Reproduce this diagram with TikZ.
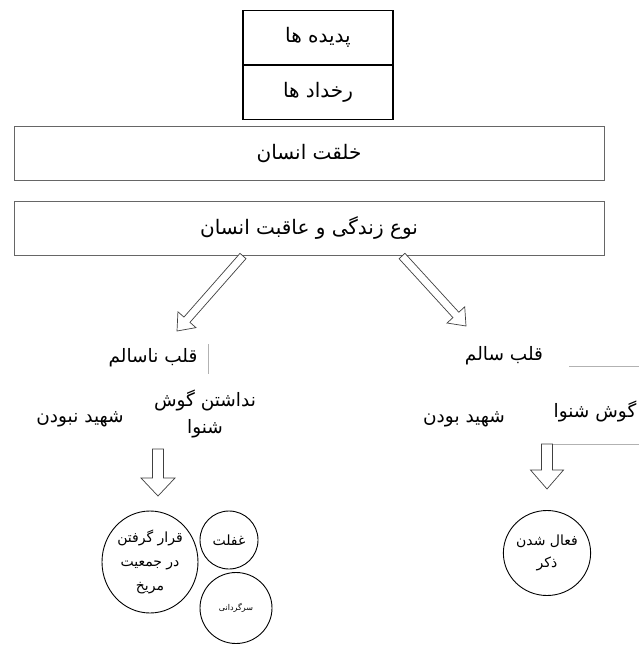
\documentclass[tikz,border=0pt]{standalone}
\usepackage{fontspec}
\newfontfamily\farsi[Script=Arabic]{DejaVu Sans}
\TeXXeTstate=1
\usetikzlibrary{calc,shapes.geometric}
\newcommand{\fa}[1]{\beginR#1\endR}

\tikzset{
  topbox/.style={draw, line width=1.2pt, minimum width=150pt, minimum height=54pt,
    font=\farsi\fontsize{20}{24}\selectfont},
  widebox/.style={draw=black!60, line width=.8pt, minimum width=590pt, minimum height=54pt,
    font=\farsi\fontsize{20}{24}\selectfont},
  txt/.style={font=\farsi\fontsize{18.5}{27}\selectfont, align=center},
  bubble/.style={draw, ellipse, line width=.9pt, inner sep=0pt, align=center,
    font=\farsi\fontsize{14}{24}\selectfont},
  faint/.style={draw=black!30, line width=.8pt},
  blockarrow/.style n args={3}{draw=black!75, fill=white, line width=.7pt,
    to path={let \p1=($(\tikztotarget)-(\tikztostart)$),
      \n1={atan2(\y1,\x1)}, \n2={veclen(\x1,\y1)-#3} in
      ($(\tikztostart)+(\n1-90:#1)$)
      -- ($(\tikztostart)+(\n1:\n2)+(\n1-90:#1)$)
      -- ($(\tikztostart)+(\n1:\n2)+(\n1-90:#2)$)
      -- (\tikztotarget)
      -- ($(\tikztostart)+(\n1:\n2)+(\n1+90:#2)$)
      -- ($(\tikztostart)+(\n1:\n2)+(\n1+90:#1)$)
      -- ($(\tikztostart)+(\n1+90:#1)$) -- cycle}}
}

\begin{document}
\begin{tikzpicture}[x=1pt, y=-1pt]
    \useasboundingbox (0,0) rectangle (639,646);

    % top boxes
    \node[topbox] (pdy) at (318,37.5) {\fa{پدیده ها}};
    \node[topbox] (rkh) at (318,92.5) {\fa{رخداد ها}};
    \node[widebox] (khl) at (309,153.5) {\fa{خلقت انسان}};
    \node[widebox] (noe) at (309,228) {\fa{نوع زندگی و عاقبت انسان}};

    % the two ways
    \coordinate (la) at (243,256);
    \coordinate (lb) at (177,331);
    \coordinate (ra) at (402,256);
    \coordinate (rb) at (466,326);
    \draw[blockarrow={4pt}{12pt}{15pt}] (la) to (lb);
    \draw[blockarrow={4pt}{12pt}{15pt}] (ra) to (rb);

    % unhealthy heart
    \node[txt] (nsl) at (153,358) {\fa{قلب ناسالم}};
    \node[txt] (ngs) at (205,414) {\fa{نداشتن گوش}\\\fa{شنوا}};
    \node[txt] (shn) at (80,419) {\fa{شهید نبودن}};
    \draw[faint] (208,344) -- (208,374);

    % healthy heart
    \node[txt] (sl) at (504,356) {\fa{قلب سالم}};
    \node[txt] (gsh) at (595,411) {\fa{گوش شنوا}};
    \node[txt] (shb) at (464,419) {\fa{شهید بودن}};
    \draw[faint] (569,366) -- (639,366);
    \draw[faint] (551,444) -- (639,444);

    % results
    \coordinate (da) at (158,449);
    \coordinate (db) at (158,496);
    \coordinate (ea) at (547,444);
    \coordinate (eb) at (547,489);
    \draw[blockarrow={5.5pt}{17pt}{18pt}] (da) to (db);
    \draw[blockarrow={5.5pt}{16.5pt}{19pt}] (ea) to (eb);

    \node[bubble, minimum width=96pt, minimum height=102pt] (qrr) at (150,562)
        {\fa{قرار گرفتن}\\\fa{در جمعیت}\\\fa{مریخ}};
    \node[bubble, minimum width=58pt, minimum height=58pt] (ghf) at (229,540) {\fa{غفلت}};
    \node[bubble, minimum width=72pt, minimum height=71pt,
        font=\farsi\fontsize{8}{10}\selectfont] (srg) at (236,608) {\fa{سرگردانی}};
    \node[bubble, minimum width=87pt, minimum height=85pt, font=\farsi\fontsize{14}{22}\selectfont]
        (zkr) at (547,553) {\fa{فعال شدن}\\\fa{ذکر}};
\end{tikzpicture}
\end{document}
